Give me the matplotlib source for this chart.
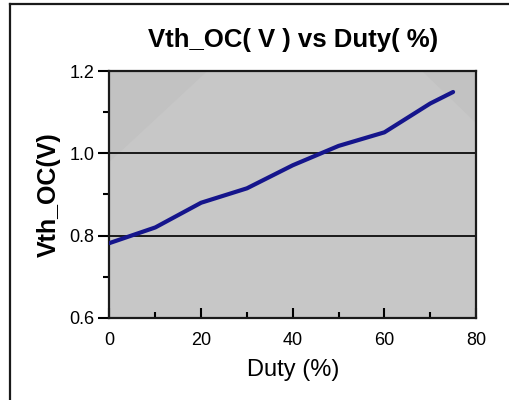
import matplotlib
matplotlib.use("Agg")
import matplotlib.pyplot as plt
from matplotlib.lines import Line2D
from matplotlib.patches import Polygon
from matplotlib.ticker import MultipleLocator

# ── data ─────────────────────────────────────────────────────────────────────
duty = [0, 10, 20, 30, 40, 50, 60, 70, 75]
vth_oc = [0.782, 0.82, 0.88, 0.915, 0.971, 1.018, 1.051, 1.121, 1.149]

x_ticks = [0, 20, 40, 60, 80]
y_ticks = [0.6, 0.8, 1.0, 1.2]
y_tick_labels = ["0.6", "0.8", "1.0", "1.2"]

title = "Vth_OC( V ) vs Duty( %)"
x_label = "Duty (%)"
y_label = "Vth_OC(V)"

# ── plot ─────────────────────────────────────────────────────────────────────
plt.rcParams["font.family"] = ["Liberation Sans", "DejaVu Sans"]

fig = plt.figure(figsize=(5.1, 4.0), dpi=100)
fig.patch.set_facecolor("white")

# outer frame: only left and top edges are on the canvas
fx, fy = 10.5 / 510, 1 - 3.5 / 400
fig.add_artist(Line2D([fx, fx], [0, fy], transform=fig.transFigure,
                      color="#1a1a1a", linewidth=1.6))
fig.add_artist(Line2D([fx, 1.05], [fy, fy], transform=fig.transFigure,
                      color="#1a1a1a", linewidth=1.6))

ax = fig.add_axes([109.5 / 510, 1 - 318 / 400, 366.5 / 510, 247 / 400])
ax.set_facecolor("#c7c7c7")

# slightly darker corner shading in the plot area
ax.add_patch(Polygon([(0, 1), (0.267, 1), (0, 0.632)], closed=True,
                     transform=ax.transAxes, facecolor="#c2c2c2",
                     edgecolor="none", zorder=0))
ax.add_patch(Polygon([(0.853, 1), (1, 1), (1, 0.79)], closed=True,
                     transform=ax.transAxes, facecolor="#c2c2c2",
                     edgecolor="none", zorder=0))

ax.plot(duty, vth_oc, color="#15158c", linewidth=3.0, solid_capstyle="round",
        zorder=3)

ax.set_xlim(0, 80)
ax.set_ylim(0.6, 1.2)
ax.set_xticks(x_ticks)
ax.set_yticks(y_ticks)
ax.set_yticklabels(y_tick_labels)
ax.xaxis.set_minor_locator(MultipleLocator(10))
ax.yaxis.set_minor_locator(MultipleLocator(0.1))

ax.tick_params(axis="x", which="major", direction="in", length=7, width=1.5,
               labelsize=13, pad=10)
ax.tick_params(axis="x", which="minor", direction="in", length=4, width=1.5)
ax.tick_params(axis="y", which="major", direction="out", length=8, width=1.5,
               labelsize=13, pad=3)
ax.tick_params(axis="y", which="minor", direction="out", length=4, width=1.5)

for s in ax.spines.values():
    s.set_linewidth(1.6)
    s.set_color("#1a1a1a")

for yv in (0.8, 1.0):
    ax.axhline(yv, color="#1a1a1a", linewidth=1.4, zorder=2)

ax.set_title(title, fontsize=18.5, fontweight="bold", pad=17)
ax.set_xlabel(x_label, fontsize=17, labelpad=7)
ax.set_ylabel(y_label, fontsize=18, fontweight="bold", labelpad=6)

fig.savefig("out.png", dpi=100)
